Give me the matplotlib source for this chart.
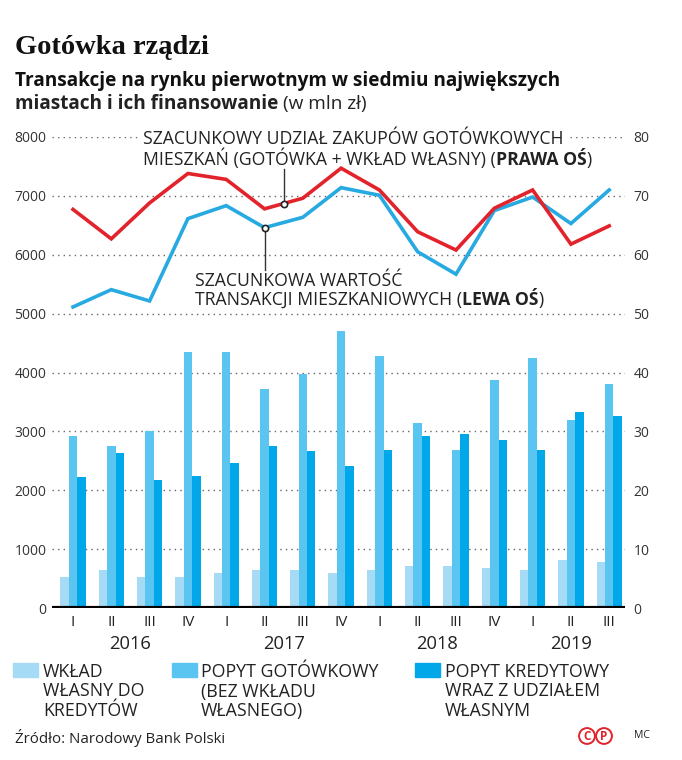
"""Gotówka rządzi – transakcje na rynku pierwotnym (NBP).  Run: python plot.py -> out.png"""
import numpy as np, matplotlib
matplotlib.use("Agg"); import matplotlib.pyplot as plt
from matplotlib import transforms

quarters = ['I', 'II', 'III', 'IV', 'I', 'II', 'III', 'IV', 'I', 'II', 'III', 'IV', 'I', 'II', 'III']
years = [2016]*4 + [2017]*4 + [2018]*4 + [2019]*3
wklad = [525, 650, 525, 525, 590, 650, 650, 590, 650, 712, 712, 685, 650, 810, 775]
gotowka = [2920, 2760, 3010, 4350, 4350, 3715, 3970, 4700, 4285, 3135, 2690, 3870, 4250, 3200, 3805]
kredyt = [2217, 2630, 2180, 2245, 2470, 2760, 2665, 2405, 2690, 2917, 2950, 2850, 2690, 3330, 3265]
wartosc = [5113, 5407, 5215, 6613, 6834, 6460, 6636, 7140, 7010, 6050, 5670, 6750, 6980, 6530, 7100]
udzial = [67.7, 62.7, 68.8, 73.8, 72.8, 67.8, 69.6, 74.7, 71.0, 63.9, 60.8, 67.9, 71.0, 61.8, 64.9]

W, H = 682, 760
C_LIGHT, C_MID, C_DARK = '#a6dbf5', '#5bc5f2', '#00a8ea'
C_RED, C_BLUE = '#e2232b', '#27a9e1'
SANS = ['Open Sans', 'DejaVu Sans']
plt.rcParams['font.family'] = SANS

fig = plt.figure(figsize=(W/100, H/100), dpi=100)
rend = fig.canvas.get_renderer()
def fx(px): return px / W
def fy(py): return 1 - py / H

# axes: x index 0 at px 73, 38.3 px per quarter; y 0 at px 608, 8000 at px 137
AX_L, AX_R = 52, 625
ax = fig.add_axes([fx(AX_L), fy(608), fx(AX_R) - fx(AX_L), fy(137) - fy(608)])
x = np.arange(len(quarters))
ax.set_xlim((AX_L - 73) / 38.3, (AX_R - 73) / 38.3)
ax.set_ylim(0, 8000)
bw = 0.22
ax.bar(x - bw, wklad, bw, color=C_LIGHT, zorder=2)
ax.bar(x, gotowka, bw, color=C_MID, zorder=2)
ax.bar(x + bw, kredyt, bw, color=C_DARK, zorder=2)
ax.plot(x, wartosc, color=C_BLUE, lw=2.6, zorder=4, solid_joinstyle='miter')
ax.axhline(0, color='black', lw=3, zorder=5)
ax.set_yticks(range(0, 8001, 1000))
ax.tick_params(axis='y', length=0, pad=4, labelsize=10, labelcolor='#333333')
ax.set_xticks(x, quarters)
ax.tick_params(axis='x', length=0, pad=5, labelsize=11, labelcolor='#222222')
for s in ax.spines.values(): s.set_visible(False)

ax2 = ax.twinx()
ax2.set_ylim(0, 80)
ax2.set_yticks(range(0, 81, 10))
ax2.tick_params(axis='y', length=0, pad=6, labelsize=10, labelcolor='#333333')
for s in ax2.spines.values(): s.set_visible(False)
ax2.plot(x, udzial, color=C_RED, lw=2.6, zorder=4, solid_joinstyle='miter')

# year labels under quarters
tr = transforms.blended_transform_factory(ax.transData, ax.transAxes)
yr = np.array(years)
for y0 in sorted(set(years)):
    ax.text(x[yr == y0].mean(), -(644 - 608) / 471, str(y0), transform=tr, ha='center', va='center',
            fontsize=13.2, color='#222222', clip_on=False)

# annotation markers + leader lines
xm = 5.5; ym = np.interp(xm, x, udzial)
ax2.plot([xm, xm], [ym, (608 - 169) / 471 * 80], color='#333333', lw=1, zorder=5)
ax2.plot(xm, ym, 'o', ms=4.5, mfc='white', mec='#222222', mew=1.2, zorder=6)
xb = 5; yb = wartosc[xb]
ax.plot([xb, xb], [yb, (608 - 270) / 471 * 8000], color='#333333', lw=1, zorder=5)
ax.plot(xb, yb, 'o', ms=4.5, mfc='white', mec='#222222', mew=1.2, zorder=6)

def runs(px, py, parts, size, **kw):
    for s, w in parts:
        t = fig.text(fx(px), fy(py), s, fontsize=size, fontweight=w, va='baseline', color='#222222', **kw)
        px += t.get_window_extent(rend).width

ANN = 12.7
top = fig.text(fx(143), fy(144), 'SZACUNKOWY UDZIAŁ ZAKUPÓW GOTÓWKOWYCH', fontsize=ANN, va='baseline',
               color='#222222')
runs(143, 165, [('MIESZKAŃ (GOTÓWKA + WKŁAD WŁASNY) (', 'normal'), ('PRAWA OŚ', 'bold'), (')', 'normal')], ANN)
fig.text(fx(195), fy(286), 'SZACUNKOWA WARTOŚĆ', fontsize=ANN, va='baseline', color='#222222')
runs(195, 305, [('TRANSAKCJI MIESZKANIOWYCH (', 'normal'), ('LEWA OŚ', 'bold'), (')', 'normal')], ANN)

# dotted gridlines; the top one is interrupted by the annotation text
bb = top.get_window_extent(rend)
gap0 = (bb.x0 - 5 - AX_L) / (AX_R - AX_L); gap1 = (bb.x1 + 6 - AX_L) / (AX_R - AX_L)
grid = dict(color='#666666', lw=1, ls=(0, (1, 3)), zorder=1)
for v in range(1000, 8001, 1000):
    if v == 8000:
        ax.axhline(v, xmax=gap0, **grid); ax.axhline(v, xmin=gap1, **grid)
    else:
        ax.axhline(v, **grid)

# titles
fig.text(fx(15), fy(54), 'Gotówka rządzi', fontsize=20.5, fontweight='bold',
         family=['Liberation Serif', 'DejaVu Serif'], va='baseline', color='#111111')
fig.text(fx(15), fy(86), 'Transakcje na rynku pierwotnym w siedmiu największych', fontsize=13.7,
         fontweight='bold', va='baseline', color='#111111')
runs(15, 109, [('miastach i ich finansowanie ', 'bold'), ('(w mln zł)', 'normal')], 13.7)

# legend
legend_items = [(C_LIGHT, ['WKŁAD', 'WŁASNY DO', 'KREDYTÓW'], 13, 43),
                (C_MID, ['POPYT GOTÓWKOWY', '(BEZ WKŁADU', 'WŁASNEGO)'], 172, 201),
                (C_DARK, ['POPYT KREDYTOWY', 'WRAZ Z UDZIAŁEM', 'WŁASNYM'], 415, 445)]
for col, lines, sx, tx in legend_items:
    fig.patches.append(plt.Rectangle((fx(sx), fy(677)), fx(25), 14 / H, transform=fig.transFigure,
                                     color=col, figure=fig))
    for i, ln in enumerate(lines):
        fig.text(fx(tx), fy(677 + 19.5 * i), ln, fontsize=12.8, va='baseline', color='#222222')

fig.text(fx(15), fy(743), 'Źródło: Narodowy Bank Polski', fontsize=10.8, va='baseline', color='#222222')
for cx, ch in [(587, 'C'), (604, 'P')]:
    fig.text(fx(cx), fy(736), ch, fontsize=8.5, fontweight='bold', color=C_RED, ha='center', va='center',
             bbox=dict(boxstyle='circle,pad=0.12', facecolor='white', edgecolor=C_RED, lw=1.4))
fig.text(fx(642), fy(736), 'MC', fontsize=7.5, color='#222222', ha='center', va='center')

fig.savefig('out.png', dpi=100)
